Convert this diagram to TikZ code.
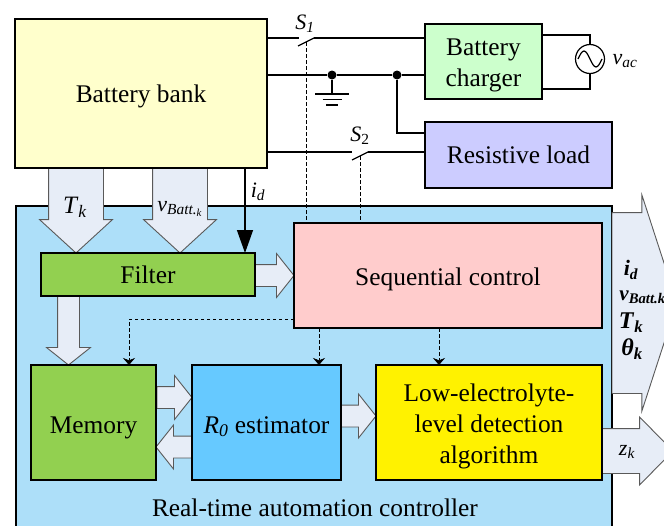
\documentclass[tikz,border=0pt]{standalone}
\usepackage{fontspec}
\setmainfont{Liberation Serif}
\usepackage{tikz}
\usetikzlibrary{positioning,arrows.meta,shapes.arrows}
\pgfdeclarelayer{back}
\pgfdeclarelayer{mid}
\pgfsetlayers{back,mid,main}
\newcommand{\lowtxt}[1]{\textsubscript{\textit{#1}}}
\newcommand{\dn}[1]{\rule{0pt}{#1pt}}
\definecolor{batfill}{HTML}{FFFFCC}
\definecolor{chgfill}{HTML}{CCFFCC}
\definecolor{loadfill}{HTML}{CCCCFF}
\definecolor{ctrlfill}{HTML}{ADDFF9}
\definecolor{filfill}{HTML}{92D050}
\definecolor{seqfill}{HTML}{FFCCCC}
\definecolor{estfill}{HTML}{66C9FF}
\definecolor{arrfill}{HTML}{E7EDF7}

\begin{document}
\begin{tikzpicture}[
      x=1pt, y=-1pt,
      block/.style={
        draw=black, line width=1.4pt, inner sep=0pt, outer sep=0pt, align=center,
        font=\fontsize{25.4}{31}\selectfont
      },
      bigarrow/.style={
        single arrow, draw=black!65, fill=arrfill, line width=0.9pt,
        inner sep=0pt, outer sep=0pt, text depth=0pt
      },
      wide/.style={minimum height=#1, text height=54pt, single arrow head extend=9pt, single arrow tip angle=95},
      slim/.style={minimum height=#1, text height=21pt, single arrow head extend=11pt, single arrow tip angle=103},
      wire/.style={line width=1.2pt},
      ctl/.style={line width=0.6pt, dash pattern=on 3.5pt off 2.5pt},
      ctlarr/.style={ctl, -{Stealth[length=7pt,width=12pt]}},
      lbl/.style={inner sep=0pt, font=\fontsize{22}{24}\selectfont},
      dot/.style={circle, fill=black, inner sep=0pt, minimum size=9pt}
      ]
  \useasboundingbox (0,0) rectangle (664,525);

  \node[block, fill=batfill, minimum width=252pt, minimum height=149pt, anchor=north west] (bat) at (15,19) {\dn{23}Battery bank};
  \node[block, fill=chgfill, minimum width=117pt, minimum height=75pt, below right=5pt and 158pt of bat.north east, anchor=north west] (chg) {\dn{24}Battery\\charger};
  \node[block, fill=loadfill, minimum width=187pt, minimum height=66pt, below=23pt of chg.south west, anchor=north west] (load) {Resistive load};
  \node[circle, draw=black, line width=1.2pt, minimum size=29pt, inner sep=0pt] (src) at (590,59) {};
  \node[lbl] (vac) at (625,61) {\textit{v}\lowtxt{ac}};

  \begin{pgfonlayer}{back}
    \node[block, fill=ctrlfill, minimum width=596pt, minimum height=330pt, below right=38pt and 1pt of bat.south west, anchor=north west] (ctrl) {};
  \end{pgfonlayer}
  \node[block, fill=filfill, minimum width=214pt, minimum height=43pt, below right=47pt and 25pt of ctrl.north west, anchor=north west] (fil) {\dn{19}Filter};
  \node[block, fill=seqfill, minimum width=308pt, minimum height=105pt, below right=17pt and 278pt of ctrl.north west, anchor=north west] (seq) {\dn{25}Sequential control};
  \node[block, fill=filfill, minimum width=125pt, minimum height=115pt, below right=159pt and 15pt of ctrl.north west, anchor=north west] (mem) {\dn{27}Memory};
  \node[block, fill=estfill, minimum width=149pt, minimum height=115pt, right=36pt of mem] (est) {\dn{25}\textit{R}\lowtxt{0} estimator};
  \node[block, fill=yellow, minimum width=226pt, minimum height=115pt, right=35pt of est] (low) {\dn{25}Low-electrolyte-\\level detection\\algorithm};
  \node[block, draw=none, below=19pt of mem.south west, anchor=north west, xshift=121pt] (ctrltxt) {Real-time automation controller};

  \begin{pgfonlayer}{mid}
    \node[bigarrow, wide=85pt, rotate=-90, anchor=tip] (tkarr) at ([xshift=35pt]fil.north west) {};
    \node[bigarrow, wide=85pt, rotate=-90, anchor=tip] (vbarr) at ([xshift=139pt]fil.north west) {};
    \node[bigarrow, slim=39pt, anchor=tip] (filseq) at ([yshift=-1pt]seq.west |- fil.east) {};
    \node[bigarrow, slim=69pt, rotate=-90, anchor=tip] (filmem) at ([xshift=-25pt]mem.north) {};
    \node[bigarrow, slim=35pt, anchor=tip] (memest) at ([yshift=25pt]est.west) {};
    \node[bigarrow, slim=36pt, rotate=180, anchor=tip] (estmem) at ([yshift=-24.5pt]mem.east) {};
    \node[bigarrow, slim=35pt, anchor=tip] (estlow) at ([yshift=6.5pt]low.west) {};
    \node[bigarrow, minimum height=65pt, text height=180pt, single arrow head extend=17.5pt, single arrow tip angle=144, anchor=tail] (outarr) at (612,303) {};
    \node[bigarrow, minimum height=71pt, text height=44pt, single arrow head extend=11.5pt, single arrow tip angle=91, anchor=tail] (zkarr) at ([yshift=-28.5pt]low.east) {};
  \end{pgfonlayer}

  \node[lbl, font=\fontsize{25}{27}\selectfont] (tk) at (75,207) {\textit{T}\lowtxt{k}};
  \node[lbl] (vb) at (180,209) {\textit{v}\lowtxt{Batt.\lowtxt{k}}};
  \node[lbl] (id) at (258,192) {\textit{i}\lowtxt{d}};
  \node[lbl] (s1) at (305,24) {\textit{S}\lowtxt{1}};
  \node[lbl] (s2) at (360,136) {\textit{S}\textsubscript{2}};
  \node[lbl, font=\bfseries\fontsize{22}{24}\selectfont] (oid) at (631,270) {\textit{i}\lowtxt{d}};
  \node[lbl, font=\bfseries\fontsize{21}{24}\selectfont] (ovb) at (642.5,297) {\textit{v}\lowtxt{Batt.k}};
  \node[lbl, font=\bfseries\fontsize{24}{26}\selectfont] (otk) at (631,323) {\textit{T}\lowtxt{k}};
  \node[lbl, font=\bfseries\fontsize{24}{26}\selectfont] (oth) at (632,349) {\textit{θ}\lowtxt{k}};
  \node[lbl] (zk) at (627,452) {\textit{z}\lowtxt{k}};

  \node[dot] (j1) at (332,75) {};
  \node[dot] (j2) at (397,75) {};
  \coordinate (s1l) at (299,38);
  \coordinate (s1r) at (314,38);
  \coordinate (s1c) at (306,42);
  \coordinate (s2l) at (352,152);
  \coordinate (s2r) at (368,152);
  \coordinate (s2c) at (360,156);
  \coordinate (gnd) at (332,94);
  \coordinate (acu) at (590,35);
  \coordinate (acl) at (590,89);
  \coordinate (lod) at (397,133);

  % Connect the nodes
  \draw[wire] (bat.east |- s1l) -- (s1l);
  \draw[wire] (s1r) -- (s1r -| chg.west);
  \draw[wire] (s1r) -- ++(-16,8);
  \draw[wire] (bat.east |- j1) -- (j1) -- (j2) -- (j2 -| chg.west);
  \draw[wire] (j1) -- (gnd);
  \draw[wire] ([xshift=-17pt]gnd) -- ([xshift=17pt]gnd);
  \draw[wire] ([shift={(-9.5pt,-5.5pt)}]gnd) -- ([shift={(9.5pt,-5.5pt)}]gnd);
  \draw[wire] ([shift={(-6pt,-11pt)}]gnd) -- ([shift={(6pt,-11pt)}]gnd);
  \draw[wire] (j2) -- (lod) -- (lod -| load.west);
  \draw[wire] (bat.east |- s2l) -- (s2l);
  \draw[wire] (s2r) -- (s2r -| load.west);
  \draw[wire] (s2r) -- ++(-16,8);
  \draw[wire] (acu -| chg.east) -- (acu) -- (src.north);
  \draw[wire] (acl -| chg.east) -- (acl) -- (src.south);
  \draw[wire] ([xshift=-12pt]src.center) sin ++(6,-8) cos ++(6,8) sin ++(6,8) cos ++(6,-8);
  \draw[line width=1.4pt, -{Stealth[length=23pt,width=16pt,inset=0pt]}] ([xshift=-22pt]bat.south east) -- ([xshift=-22pt]bat.south east |- fil.north);

  \draw[ctl] (s1c) -- (s1c |- seq.north);
  \draw[ctl] (s2c) -- (s2c |- seq.north);
  \draw[ctlarr] ([yshift=9pt]seq.south west) -| ([xshift=35.5pt]mem.north);
  \draw[ctlarr] ([xshift=52.5pt]est.north |- seq.south) -- ([xshift=52.5pt]est.north);
  \draw[ctlarr] ([xshift=-50pt]low.north |- seq.south) -- ([xshift=-50pt]low.north);
\end{tikzpicture}
\end{document}
